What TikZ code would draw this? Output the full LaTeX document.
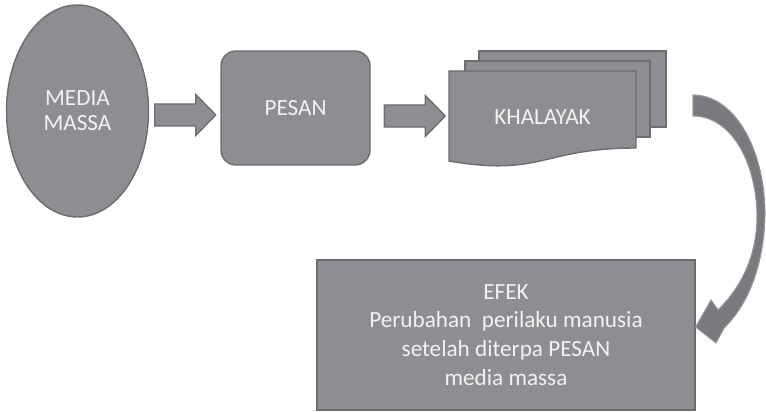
\documentclass[tikz,border=0pt]{standalone}
\usepackage{fontspec}
\setmainfont{Carlito}
\usetikzlibrary{shapes.geometric,calc,positioning}
\definecolor{boxFill}{RGB}{141,142,146}
\definecolor{boxLine}{RGB}{108,109,113}
\definecolor{curveFill}{RGB}{121,122,126}
\definecolor{curveLine}{RGB}{150,151,155}
\definecolor{boxText}{RGB}{242,242,242}
\tikzset{
    grayBox/.style={fill=boxFill, draw=boxLine, line width=0.8pt, text=boxText, align=center, inner sep=0pt,
        font=\fontsize{13.2}{16.4}\selectfont},
    pageStyle/.style={fill=boxFill, draw=boxLine, line width=0.8pt},
    curveArrow/.style={fill=curveFill, draw=curveLine, line width=0.6pt}
}
\tikzset{
    blockArrow/.pic={
		\filldraw[pageStyle] (-30.5,-11) -- (10.5,-11) -- (10.5,-20.5) -- (30.5,0)
			-- (10.5,20.5) -- (10.5,11) -- (-30.5,11) -- cycle;
	}
}
\begin{document}
\begin{tikzpicture}[x=0.2mm, y=-0.2mm]
			\useasboundingbox (0,0) rectangle (766,412);
			\node[grayBox, ellipse, minimum width=28.4mm, minimum height=42.4mm,
				font=\fontsize{13.2}{14.2}\selectfont] (media) at (77.5,111) {MEDIA\\MASSA};
			\node[grayBox, rounded corners=3mm, minimum width=29.8mm, minimum height=22.8mm] (pesan) at (295.5,108) {PESAN};
			% tumpukan halaman khalayak
			\filldraw[pageStyle] (479,51) rectangle (666,127);
			\filldraw[pageStyle] (465,61) rectangle (650,137);
			\filldraw[pageStyle] (449,71) -- (636,71) -- (636,148) .. controls (542,148) and (542,177) .. (449,161) -- cycle;
			\node[text=boxText, font=\fontsize{13.2}{16.4}\selectfont] (khalayak) at (542.5,117) {KHALAYAK};
			\node[grayBox, minimum width=75.6mm, minimum height=30mm] (efek) at (506,335)
				{EFEK\\Perubahan\ \ perilaku manusia\\setelah diterpa PESAN\\media massa};
			\pic at ($(media.east)+(36,4)$) {blockArrow};
			\pic at ($(pesan.east)+(44,8)$) {blockArrow};
			\coordinate (curveStart) at (693,95);
			\coordinate (curveTip) at ($(efek.east)+(0,-8)$);
			\filldraw[curveArrow] (curveStart) .. controls (735,95) and (765,150) .. (765,215)
				.. controls (764,265) and (748,305) .. (724,328) -- (716,343) -- (curveTip)
				-- (711,300) -- (718,310) .. controls (740,288) and (757,258) .. (757,215)
				.. controls (756,160) and (730,116) .. (693,116) -- cycle;
		\end{tikzpicture}
\end{document}
